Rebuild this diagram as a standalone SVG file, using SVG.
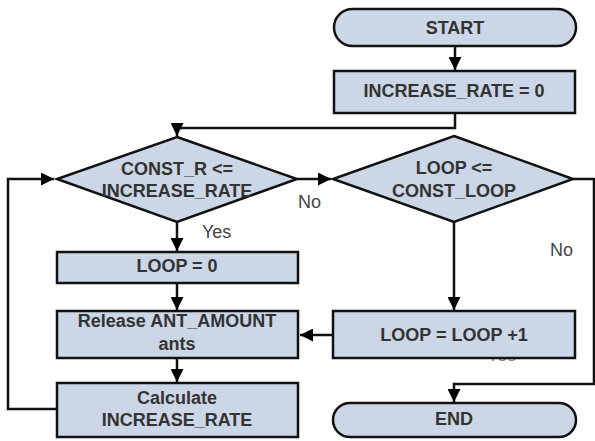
<svg xmlns="http://www.w3.org/2000/svg" width="595" height="441" viewBox="0 0 595 441">
<defs>
<marker id="ah" viewBox="0 0 10 10" refX="10" refY="5" markerWidth="14" markerHeight="13" markerUnits="userSpaceOnUse" orient="auto">
<path d="M0,0 L10,5 L0,10 z" fill="#000"/>
</marker>
<style>
.shape{fill:#cbd6e6;stroke:#111;stroke-width:2.5}
.t{font-family:"Liberation Sans",Arial,sans-serif;font-size:18px;font-weight:bold;fill:#333;text-anchor:middle}
.lbl{font-family:"Liberation Sans",Arial,sans-serif;font-size:18px;fill:#444}
.c{fill:none;stroke:#111;stroke-width:2.5;marker-end:url(#ah)}
</style>
</defs>
<rect width="595" height="441" fill="#fff"/>
<text class="lbl" x="487" y="361" fill="#777" style="fill:#888">Yes</text>
<g id="connectors">
<path class="c" d="M455,46 L455,70"/>
<path class="c" d="M455,113 L455,128 L177,128 L177,136"/>
<path class="c" d="M177,222 L177,251"/>
<path class="c" d="M177,283 L177,310"/>
<path class="c" d="M177,358 L177,382"/>
<path class="c" d="M57,409 L8,409 L8,179 L54,179"/>
<path class="c" d="M297,179 L331,179"/>
<path class="c" d="M454,222 L454,310"/>
<path class="c" d="M333,335 L300,335"/>
<path class="c" d="M573,179 L594,179 L594,384 L454,384 L454,402"/>
</g>
<g id="start"><rect class="shape" x="334" y="9" width="242" height="37" rx="18.5"/><text class="t" x="455" y="34">START</text></g>
<g id="init"><rect class="shape" x="334" y="71" width="241" height="42"/><text class="t" x="454" y="97">INCREASE_RATE = 0</text></g>
<g id="cond1"><polygon class="shape" points="177,137 297,179 177,222 57,179"/><text class="t" x="177" y="175">CONST_R &lt;=</text><text class="t" x="177" y="197">INCREASE_RATE</text></g>
<g id="cond2"><polygon class="shape" points="454,136 573,179 454,222 333,179"/><text class="t" x="454" y="174">LOOP &lt;=</text><text class="t" x="454" y="197">CONST_LOOP</text></g>
<g id="loop0"><rect class="shape" x="57" y="252" width="241" height="31"/><text class="t" x="177" y="272">LOOP = 0</text></g>
<g id="release"><rect class="shape" x="57" y="311" width="241" height="47"/><text class="t" x="177" y="327">Release ANT_AMOUNT</text><text class="t" x="177" y="350">ants</text></g>
<g id="calc"><rect class="shape" x="57" y="383" width="241" height="54"/><text class="t" x="177" y="404">Calculate</text><text class="t" x="177" y="426">INCREASE_RATE</text></g>
<g id="inc"><rect class="shape" x="333" y="311" width="242" height="47"/><text class="t" x="454" y="341">LOOP = LOOP +1</text></g>
<g id="end"><rect class="shape" x="333" y="403" width="243" height="34" rx="17"/><text class="t" x="454" y="425">END</text></g>
<text class="lbl" x="298" y="208">No</text>
<text class="lbl" x="202" y="238">Yes</text>
<text class="lbl" x="550" y="256">No</text>
</svg>
